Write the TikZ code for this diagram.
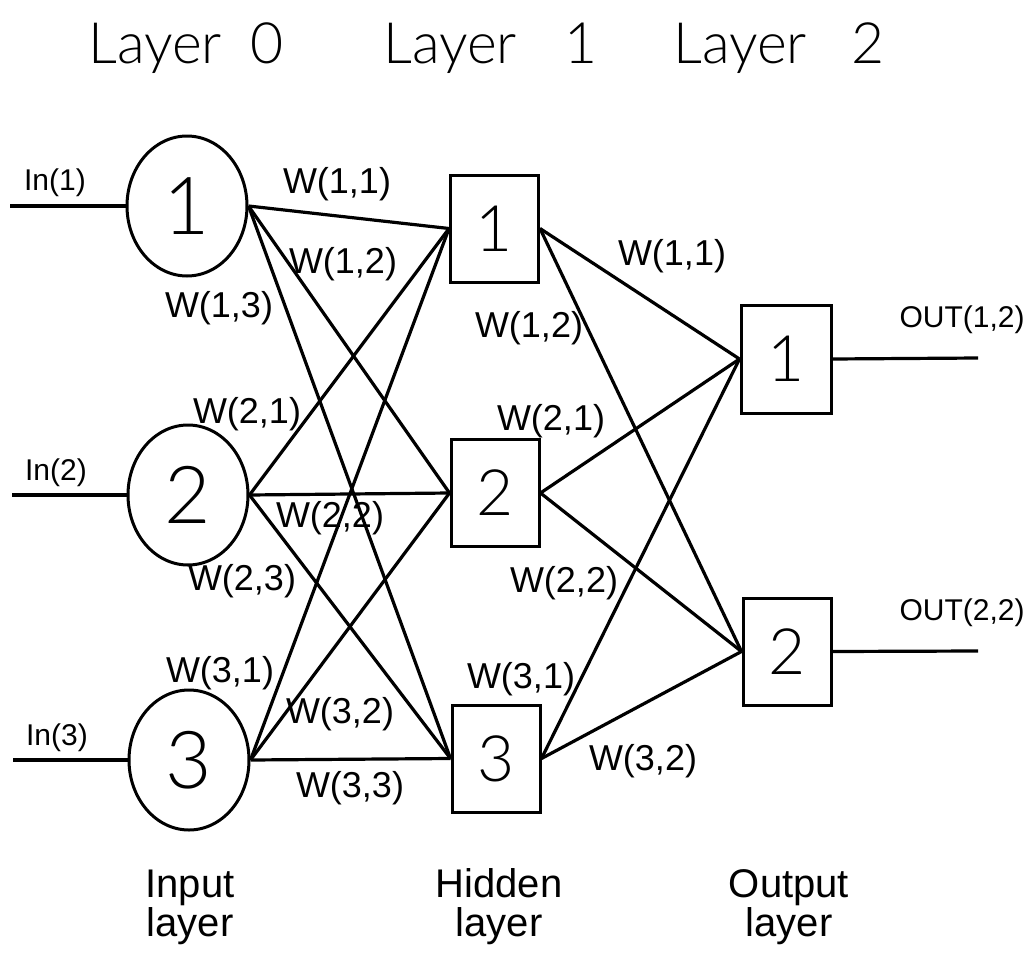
\documentclass[tikz,border=0pt]{standalone}
\usepackage{fontspec}
\setmainfont{Liberation Sans}
% thin face for the titles and the unit numbers
\IfFontExistsTF{Lato Light}
  {\newfontfamily\thinfont{Lato Light}}
  {\IfFontExistsTF{Open Sans Light}
    {\newfontfamily\thinfont{Open Sans Light}}
    {\newfontfamily\thinfont{Liberation Sans}}}
\usetikzlibrary{shapes.geometric}
\begin{document}
\begin{tikzpicture}[x=1pt,y=-1pt,
  neuron/.style={ellipse,draw,line width=3pt,minimum width=120pt,minimum height=140pt,
    inner sep=0pt,font=\thinfont\fontsize{80}{82}\selectfont},
  unit/.style={rectangle,draw,line width=3pt,minimum width=88pt,minimum height=107pt,
    inner sep=0pt,font=\thinfont\fontsize{64}{66}\selectfont},
  link/.style={line width=3.2pt},
  wlab/.style={anchor=base,inner sep=0pt,font=\fontsize{36}{40}\selectfont},
  iolab/.style={anchor=base,inner sep=0pt,font=\fontsize{30}{32}\selectfont},
  title/.style={anchor=base west,inner sep=0pt,font=\thinfont\fontsize{57}{60}\selectfont},
  caption/.style={anchor=south,inner sep=0pt,align=center,font=\fontsize{40}{39}\selectfont}
]
\useasboundingbox (0,0) rectangle (1028,953);

% layer titles
\node[title] (t0) at (88,63)  {\makebox[143pt][l]{Layer}\hspace{19pt}0};
\node[title] (t1) at (383,63) {\makebox[143pt][l]{Layer}\hspace{38pt}1};
\node[title] (t2) at (673,63) {\makebox[143pt][l]{Layer}\hspace{35pt}2};

% input layer
\node[neuron] (i1) at (187,206) {1};
\node[neuron] (i2) at (188,495) {2};
\node[neuron] (i3) at (189,760) {3};

% hidden layer
\node[unit] (h1) at (494.5,228.5) {1};
\node[unit] (h2) at (495,493) {2};
\node[unit] (h3) at (496,758.5) {3};

% output layer
\node[unit,minimum width=90pt,minimum height=108pt] (o1) at (786,359) {1};
\node[unit] (o2) at (787,651.5) {2};

% external inputs and outputs
\coordinate (x1) at (10,206);
\coordinate (x2) at (12,495);
\coordinate (x3) at (13,760);
\coordinate (y1) at (978,358);
\coordinate (y2) at (978,651);
\foreach \k in {1,2,3} \draw[link] (x\k) -- (i\k.west);
\foreach \k in {1,2} \draw[link] (o\k.east) -- (y\k);

% weighted connections
\foreach \a in {1,2,3}
  \foreach \b in {1,2,3}
    \draw[link] (i\a.east) -- (h\b.west);
\foreach \a in {1,2,3}
  \foreach \b in {1,2}
    \draw[link] (h\a.east) -- (o\b.west);

% input / output labels
\node[iolab] (n1) at (55,190) {In(1)};
\node[iolab] (n2) at (56,480) {In(2)};
\node[iolab] (n3) at (57,745) {In(3)};
\node[iolab] (u1) at (962,327) {OUT(1,2)};
\node[iolab] (u2) at (962,620) {OUT(2,2)};

% weights between input and hidden layer
\node[wlab] (a11) at (337,193) {W(1,1)};
\node[wlab] (a12) at (343,273) {W(1,2)};
\node[wlab] (a13) at (219,317) {W(1,3)};
\node[wlab] (a21) at (247,423) {W(2,1)};
\node[wlab] (a22) at (330,527) {W(2,2)};
\node[wlab] (a23) at (242,590) {W(2,3)};
\node[wlab] (a31) at (220,682) {W(3,1)};
\node[wlab] (a32) at (340,723) {W(3,2)};
\node[wlab] (a33) at (350,797) {W(3,3)};

% weights between hidden and output layer
\node[wlab] (b11) at (672,265) {W(1,1)};
\node[wlab] (b12) at (529,337) {W(1,2)};
\node[wlab] (b21) at (551,430) {W(2,1)};
\node[wlab] (b22) at (564,592) {W(2,2)};
\node[wlab] (b31) at (521,688) {W(3,1)};
\node[wlab] (b32) at (643,770) {W(3,2)};

% layer captions
\node[caption] (c0) at (190,945) {Input\\layer};
\node[caption] (c1) at (499,945) {Hidden\\layer};
\node[caption] (c2) at (789,945) {Output\\layer};
\end{tikzpicture}
\end{document}
